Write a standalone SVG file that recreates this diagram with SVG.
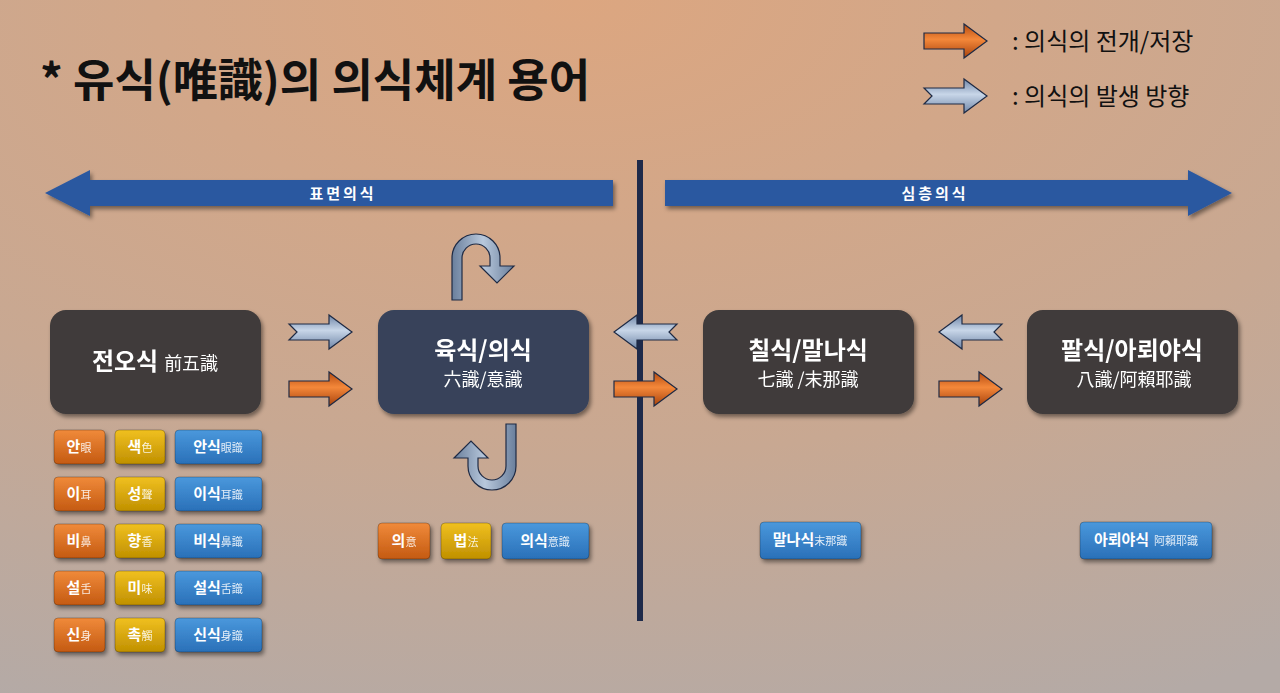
<svg xmlns="http://www.w3.org/2000/svg" xmlns:xlink="http://www.w3.org/1999/xlink" width="1280" height="693" viewBox="0 0 1280 693">
<defs>
<radialGradient id="bg" cx="0.45" cy="0" r="1.1">
<stop offset="0" stop-color="#dca680"/><stop offset="0.6" stop-color="#c8a892"/><stop offset="1" stop-color="#b4aaa6"/>
</radialGradient>
<linearGradient id="gOr" x1="0" y1="0" x2="0" y2="1"><stop offset="0" stop-color="#f08a3a"/><stop offset="1" stop-color="#c45a12"/></linearGradient>
<linearGradient id="gYe" x1="0" y1="0" x2="0" y2="1"><stop offset="0" stop-color="#f0c020"/><stop offset="1" stop-color="#c09000"/></linearGradient>
<linearGradient id="gBl" x1="0" y1="0" x2="0" y2="1"><stop offset="0" stop-color="#4a98dc"/><stop offset="1" stop-color="#2a70b8"/></linearGradient>
<linearGradient id="gAB" x1="0" y1="0" x2="0" y2="1"><stop offset="0" stop-color="#6f86a8"/><stop offset="0.45" stop-color="#c8d6e8"/><stop offset="1" stop-color="#6f86a8"/></linearGradient>
<linearGradient id="gAO" x1="0" y1="0" x2="0" y2="1"><stop offset="0" stop-color="#b44a10"/><stop offset="0.45" stop-color="#f4883a"/><stop offset="1" stop-color="#a8420c"/></linearGradient>
<linearGradient id="gU" x1="0" y1="0" x2="1" y2="0"><stop offset="0" stop-color="#6a7f9c"/><stop offset="0.5" stop-color="#b8c8dc"/><stop offset="1" stop-color="#6a7f9c"/></linearGradient>
<filter id="sh" x="-10%" y="-10%" width="130%" height="140%"><feDropShadow dx="2" dy="3" stdDeviation="2" flood-opacity="0.45"/></filter>
<path id="arR" d="M0,-8 H40 V-17 L63,0 L40,17 V8 H0 Z"/>
<path id="arL" d="M63,-8 H23 V-17 L0,0 L23,17 V8 H63 L55,0 Z"/>
<path id="arRn" d="M0,-8 H40 V-17 L63,0 L40,17 V8 H0 L8,0 Z"/>
</defs>
<style>
.t{font-family:"Noto Sans CJK KR","Noto Sans",sans-serif;fill:#fff}
.k{font-family:"Noto Sans CJK KR",sans-serif;font-weight:bold;fill:#fff;font-size:15px}
.h{font-family:"Noto Sans CJK KR",sans-serif;fill:#fff;font-size:11px;opacity:0.85}
.node{filter:url(#sh)}
.btn{stroke:rgba(0,0,0,0.25);stroke-width:1;filter:url(#sh)}
.ab{fill:url(#gAB);stroke:#1e2a44;stroke-width:1.2}
.ao{fill:url(#gAO);stroke:#1e2a44;stroke-width:1.2}
</style>
<rect width="1280" height="693" fill="url(#bg)"/>
<text x="40" y="97" font-family="Noto Sans CJK KR,sans-serif" font-weight="bold" font-size="45" fill="#111">* 유식(唯識)의 의식체계 용어</text>
<g id="legend">
<use href="#arR" x="924" y="41" class="ao"/>
<text x="1012" y="50" font-family="Noto Sans CJK KR,sans-serif" font-size="24" fill="#111">: 의식의 전개/저장</text>
<use href="#arRn" x="924" y="96" class="ab"/>
<text x="1012" y="105" font-family="Noto Sans CJK KR,sans-serif" font-size="24" fill="#111">: 의식의 발생 방향</text>
</g>
<g id="connectors">
<line x1="640" y1="160" x2="640" y2="621" stroke="#1e2a4a" stroke-width="6"/>
<path d="M613,180 H90 V170 L45,193 L90,216 V206 H613 Z" fill="#2c58a0" filter="url(#sh)"/>
<text x="343" y="199" class="t" font-size="15" font-weight="bold" text-anchor="middle" letter-spacing="3">표면의식</text>
<path d="M665,180 H1188 V170 L1232,193 L1188,216 V206 H665 Z" fill="#2c58a0" filter="url(#sh)"/>
<text x="935" y="199" class="t" font-size="15" font-weight="bold" text-anchor="middle" letter-spacing="3">심층의식</text>
<use href="#arRn" x="289" y="332" class="ab"/>
<use href="#arR" x="289" y="389" class="ao"/>
<use href="#arL" x="614" y="332" class="ab"/>
<use href="#arR" x="614" y="389" class="ao"/>
<use href="#arL" x="939" y="332" class="ab"/>
<use href="#arR" x="939" y="389" class="ao"/>
<path d="M452,300 V258 A24,24 0 0 1 500,258 V266 H514 L497,283 L480,266 H490 V258 A14,14 0 0 0 462,258 V300 Z" fill="url(#gU)" stroke="#1e2a44" stroke-width="1.2"/>
<path d="M516,424 V466 A24,24 0 0 1 468,466 V458 H454 L471,441 L488,458 H478 V466 A14,14 0 0 0 506,466 V424 Z" fill="url(#gU)" stroke="#1e2a44" stroke-width="1.2"/>
</g>
<g id="n1" class="node"><rect x="50" y="310" width="211" height="104" rx="16" fill="#3f3b3b"/>
<text x="155" y="370" text-anchor="middle" class="t"><tspan font-size="24" font-weight="bold">전오식</tspan><tspan font-size="18" dx="6">前五識</tspan></text></g>
<g id="n2" class="node"><rect x="378" y="310" width="211" height="104" rx="16" fill="#37435a"/>
<text x="483" y="359" text-anchor="middle" class="t" font-size="24" font-weight="bold">육식/의식</text>
<text x="483" y="386" text-anchor="middle" class="t" font-size="18">六識/意識</text></g>
<g id="n3" class="node"><rect x="703" y="310" width="211" height="104" rx="16" fill="#3f3b3b"/>
<text x="808" y="359" text-anchor="middle" class="t" font-size="24" font-weight="bold">칠식/말나식</text>
<text x="808" y="386" text-anchor="middle" class="t" font-size="18">七識 /末那識</text></g>
<g id="n4" class="node"><rect x="1027" y="310" width="211" height="104" rx="16" fill="#3f3b3b"/>
<text x="1132" y="359" text-anchor="middle" class="t" font-size="24" font-weight="bold">팔식/아뢰야식</text>
<text x="1134" y="386" text-anchor="middle" class="t" font-size="18">八識/阿賴耶識</text></g>
<g id="buttons">
<g id="r1"><rect x="54" y="430" width="51" height="34" rx="4" fill="url(#gOr)" class="btn"/><text x="79" y="452" text-anchor="middle"><tspan class="k">안</tspan><tspan class="h">眼</tspan></text>
<rect x="115" y="430" width="50" height="34" rx="4" fill="url(#gYe)" class="btn"/><text x="140" y="452" text-anchor="middle"><tspan class="k">색</tspan><tspan class="h">色</tspan></text>
<rect x="175" y="430" width="87" height="34" rx="4" fill="url(#gBl)" class="btn"/><text x="218" y="452" text-anchor="middle"><tspan class="k">안식</tspan><tspan class="h">眼識</tspan></text></g>
<g id="r2"><rect x="54" y="477" width="51" height="34" rx="4" fill="url(#gOr)" class="btn"/><text x="79" y="499" text-anchor="middle"><tspan class="k">이</tspan><tspan class="h">耳</tspan></text>
<rect x="115" y="477" width="50" height="34" rx="4" fill="url(#gYe)" class="btn"/><text x="140" y="499" text-anchor="middle"><tspan class="k">성</tspan><tspan class="h">聲</tspan></text>
<rect x="175" y="477" width="87" height="34" rx="4" fill="url(#gBl)" class="btn"/><text x="218" y="499" text-anchor="middle"><tspan class="k">이식</tspan><tspan class="h">耳識</tspan></text></g>
<g id="r3"><rect x="54" y="524" width="51" height="34" rx="4" fill="url(#gOr)" class="btn"/><text x="79" y="546" text-anchor="middle"><tspan class="k">비</tspan><tspan class="h">鼻</tspan></text>
<rect x="115" y="524" width="50" height="34" rx="4" fill="url(#gYe)" class="btn"/><text x="140" y="546" text-anchor="middle"><tspan class="k">향</tspan><tspan class="h">香</tspan></text>
<rect x="175" y="524" width="87" height="34" rx="4" fill="url(#gBl)" class="btn"/><text x="218" y="546" text-anchor="middle"><tspan class="k">비식</tspan><tspan class="h">鼻識</tspan></text></g>
<g id="r4"><rect x="54" y="571" width="51" height="34" rx="4" fill="url(#gOr)" class="btn"/><text x="79" y="593" text-anchor="middle"><tspan class="k">설</tspan><tspan class="h">舌</tspan></text>
<rect x="115" y="571" width="50" height="34" rx="4" fill="url(#gYe)" class="btn"/><text x="140" y="593" text-anchor="middle"><tspan class="k">미</tspan><tspan class="h">味</tspan></text>
<rect x="175" y="571" width="87" height="34" rx="4" fill="url(#gBl)" class="btn"/><text x="218" y="593" text-anchor="middle"><tspan class="k">설식</tspan><tspan class="h">舌識</tspan></text></g>
<g id="r5"><rect x="54" y="618" width="51" height="34" rx="4" fill="url(#gOr)" class="btn"/><text x="79" y="640" text-anchor="middle"><tspan class="k">신</tspan><tspan class="h">身</tspan></text>
<rect x="115" y="618" width="50" height="34" rx="4" fill="url(#gYe)" class="btn"/><text x="140" y="640" text-anchor="middle"><tspan class="k">촉</tspan><tspan class="h">觸</tspan></text>
<rect x="175" y="618" width="87" height="34" rx="4" fill="url(#gBl)" class="btn"/><text x="218" y="640" text-anchor="middle"><tspan class="k">신식</tspan><tspan class="h">身識</tspan></text></g>
<g id="r6"><rect x="378" y="523" width="52" height="36" rx="4" fill="url(#gOr)" class="btn"/><text x="404" y="546" text-anchor="middle"><tspan class="k">의</tspan><tspan class="h">意</tspan></text>
<rect x="441" y="523" width="50" height="36" rx="4" fill="url(#gYe)" class="btn"/><text x="466" y="546" text-anchor="middle"><tspan class="k">법</tspan><tspan class="h">法</tspan></text>
<rect x="502" y="523" width="87" height="36" rx="4" fill="url(#gBl)" class="btn"/><text x="545" y="546" text-anchor="middle"><tspan class="k">의식</tspan><tspan class="h">意識</tspan></text></g>
<g id="r7"><rect x="760" y="522" width="101" height="37" rx="4" fill="url(#gBl)" class="btn"/><text x="810" y="545" text-anchor="middle"><tspan class="k">말나식</tspan><tspan class="h">末那識</tspan></text></g>
<g id="r8"><rect x="1080" y="522" width="132" height="37" rx="4" fill="url(#gBl)" class="btn"/><text x="1146" y="545" text-anchor="middle"><tspan class="k">아뢰야식</tspan><tspan class="h" dx="5">阿賴耶識</tspan></text></g>
</g>
</svg>
